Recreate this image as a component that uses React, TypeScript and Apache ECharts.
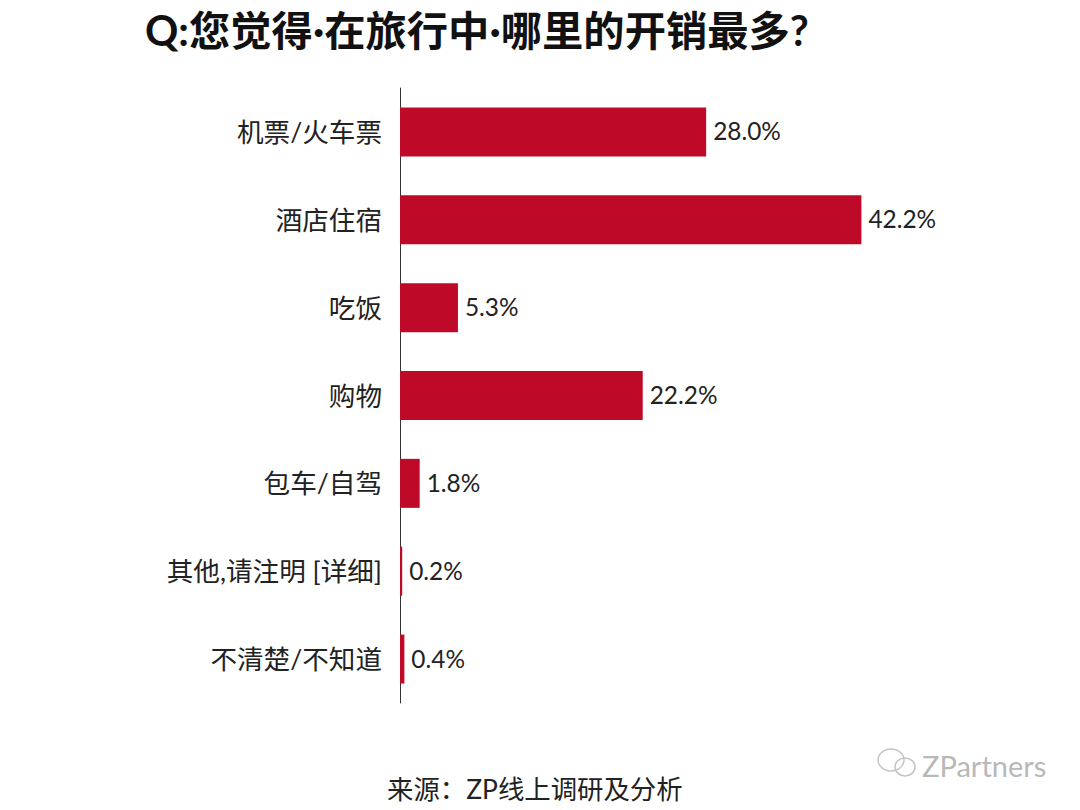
import React, { useEffect, useRef } from "react";
import * as echarts from "echarts";

const categories = ["机票/火车票", "酒店住宿", "吃饭", "购物", "包车/自驾", "其他,请注明 [详细]", "不清楚/不知道"];
const values = [28.0, 42.2, 5.3, 22.2, 1.8, 0.2, 0.4];
const titleText = "Q:您觉得·在旅行中·哪里的开销最多?";
const sourceText = "来源：ZP线上调研及分析";
const markText = "ZPartners";
const FONT = 'Lato, "Noto Sans CJK SC", sans-serif';

export default function App() {
  const ref = useRef<HTMLDivElement>(null);
  useEffect(() => {
    const chart = echarts.init(ref.current!, undefined, { renderer: "svg" });
    const iconStroke = { fill: "none", stroke: "#c4c4c4", lineWidth: 1.5 };
    chart.setOption({
      animation: false,
      backgroundColor: "#ffffff",
      grid: { left: 400, top: 88, width: 492, height: 615, containLabel: false },
      xAxis: { type: "value", min: 0, max: 45, show: false },
      yAxis: {
        type: "category",
        inverse: true,
        data: categories,
        axisLine: { show: true, lineStyle: { color: "#333333", width: 1 } },
        axisTick: { show: false },
        axisLabel: { color: "#222222", fontSize: 26.6, margin: 18, fontFamily: FONT },
      },
      series: [{
        type: "bar",
        data: values,
        barWidth: 49,
        itemStyle: { color: "#BE0A28" },
        label: {
          show: true,
          position: "right",
          distance: 7,
          offset: [0, -1],
          color: "#222222",
          fontSize: 24.4,
          fontFamily: FONT,
          formatter: (p: any) => Number(p.value).toFixed(1) + "%",
        },
      }],
      graphic: [
        { type: "text", left: 145, top: 9, style: { text: titleText, fill: "#111111", fontSize: 41.3, fontWeight: "bold", fontFamily: FONT } },
        { type: "text", left: 387, top: 776, style: { text: sourceText, fill: "#222222", fontSize: 26.4, fontFamily: FONT } },
        { type: "text", left: 922, top: 751, style: { text: markText, fill: "#b8b8b8", fontSize: 29, fontFamily: FONT } },
        { type: "ellipse", shape: { cx: 891, cy: 760, rx: 13, ry: 11 }, style: iconStroke },
        { type: "ellipse", shape: { cx: 905, cy: 767, rx: 10, ry: 9 }, style: iconStroke },
      ],
    });
    return () => chart.dispose();
  }, []);
  return <div ref={ref} style={{ position: "fixed", left: 0, top: 0, width: 1080, height: 810 }} />;
}
